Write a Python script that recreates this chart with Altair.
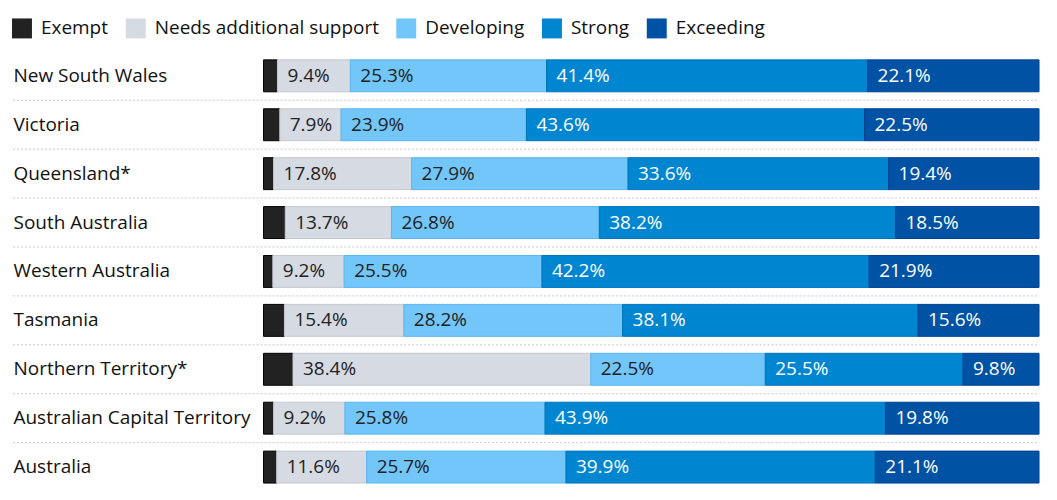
import altair as alt
import pandas as pd

states = ["New South Wales", "Victoria", "Queensland*", "South Australia",
          "Western Australia", "Tasmania", "Northern Territory*",
          "Australian Capital Territory", "Australia"]
categories = ["Exempt", "Needs additional support", "Developing", "Strong", "Exceeding"]
exempt = [1.8, 2.1, 1.3, 2.8, 1.2, 2.7, 3.8, 1.3, 1.7]
needs = [9.4, 7.9, 17.8, 13.7, 9.2, 15.4, 38.4, 9.2, 11.6]
developing = [25.3, 23.9, 27.9, 26.8, 25.5, 28.2, 22.5, 25.8, 25.7]
strong = [41.4, 43.6, 33.6, 38.2, 42.2, 38.1, 25.5, 43.9, 39.9]
exceeding = [22.1, 22.5, 19.4, 18.5, 21.9, 15.6, 9.8, 19.8, 21.1]

fills = ["#222222", "#d6dae2", "#73c6f9", "#0086d1", "#0052a5"]
strokes = ["#000000", "#c4c8d0", "#5ab6ee", "#0074bb", "#003f8f"]
text_colors = ["#222222", "#222222", "#222222", "#ffffff", "#ffffff"]

series = [exempt, needs, developing, strong, exceeding]
rows = []
for ci, (cat, vals) in enumerate(zip(categories, series)):
    for s, v in zip(states, vals):
        rows.append({"state": s, "category": cat, "order": ci, "value": v,
                     "label": "" if cat == "Exempt" else f"{v:.1f}%",
                     "tcolor": text_colors[ci]})
df = pd.DataFrame(rows)
sep_df = pd.DataFrame({"state": states[:-1]})

FONT = "Open Sans"
FS = 19

base = alt.Chart(df).transform_stack(
    stack="value", groupby=["state"], as_=["x0", "x1"],
    sort=[alt.SortField("order", order="ascending")]
)

yenc = alt.Y("state:N", sort=states, title=None,
             scale=alt.Scale(paddingInner=0, paddingOuter=0),
             axis=alt.Axis(domain=False, ticks=False, labelAlign="left",
                           labelPadding=251, labelLimit=0, labelFontSize=FS,
                           labelFont=FONT, labelColor="#111111", grid=False))

bars = base.mark_bar(size=32, strokeWidth=1).encode(
    y=yenc,
    x=alt.X("x0:Q", scale=alt.Scale(domain=[0, 100], nice=False), axis=None),
    x2="x1:Q",
    color=alt.Color("category:N", sort=categories,
                    scale=alt.Scale(domain=categories, range=fills),
                    legend=alt.Legend(title=None, orient="none", direction="horizontal",
                                      legendX=-252, legendY=-33,
                                      symbolType="square", symbolSize=400,
                                      symbolStrokeWidth=0,
                                      labelFontSize=FS, labelFont=FONT,
                                      labelColor="#111111", labelLimit=0,
                                      labelOffset=9, columnPadding=17)),
    stroke=alt.Stroke("category:N", sort=categories,
                      scale=alt.Scale(domain=categories, range=strokes),
                      legend=None),
)

texts = base.mark_text(align="left", baseline="middle", dx=10, fontSize=FS,
                       font=FONT).encode(
    y=alt.Y("state:N", sort=states),
    x=alt.X("x0:Q", axis=None),
    text="label:N",
    color=alt.Color("tcolor:N", scale=None),
)

seps = alt.Chart(sep_df).mark_rule(strokeDash=[2, 2], color="#c8c8c8",
                                   strokeWidth=1).encode(
    y=alt.Y("state:N", sort=states, bandPosition=1),
    x=alt.value(-251),
    x2=alt.value(777),
)

chart = alt.layer(seps, bars, texts).resolve_scale(color="independent").properties(
    width=777, height=441,
    background="white",
    autosize=alt.AutoSizeParams(type="none"),
    padding={"left": 256, "top": 43, "right": 10, "bottom": 0},
).configure_view(strokeWidth=0, stroke=None)

chart.save("out.html", embed_options={"renderer": "svg", "actions": False})
